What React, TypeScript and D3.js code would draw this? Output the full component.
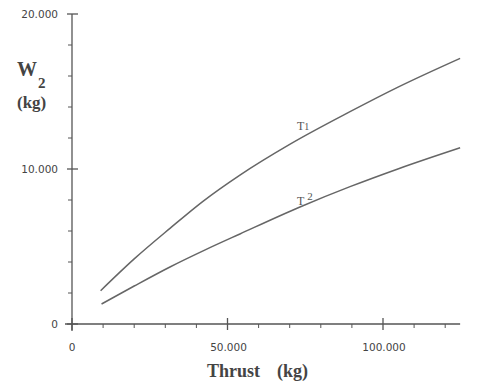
import React from "react";
import * as d3 from "d3";

const T1_THRUST = [9200, 20000, 31500, 42000, 54000, 70000, 89400, 105000, 124800];
const T1_W2 = [2150, 4200, 6170, 7900, 9610, 11590, 13700, 15300, 17140];
const T2_THRUST = [9500, 20000, 31500, 43000, 54000, 73300, 89400, 105000, 124800];
const T2_W2 = [1290, 2450, 3680, 4800, 5810, 7550, 8860, 10020, 11370];

const X_MAJOR = [0, 50000, 100000];
const X_MAJOR_LABELS = ["0", "50.000", "100.000"];
const X_MINOR = [10000, 20000, 30000, 40000, 60000, 70000, 80000, 90000, 110000, 120000];
const Y_MAJOR = [0, 10000, 20000];
const Y_MAJOR_LABELS = ["0", "10.000", "20.000"];
const Y_MINOR = [2000, 4000, 6000, 8000, 12000, 14000, 16000, 18000];

const W = 478;
const H = 391;

export default function App() {
  const x = d3.scaleLinear().domain([0, 100000]).range([72, 383]);
  const y = d3.scaleLinear().domain([0, 20000]).range([324, 14]);
  const line = d3
    .line<[number, number]>()
    .x((d) => x(d[0]))
    .y((d) => y(d[1]))
    .curve(d3.curveMonotoneX);
  const t1 = T1_THRUST.map((v, i) => [v, T1_W2[i]] as [number, number]);
  const t2 = T2_THRUST.map((v, i) => [v, T2_W2[i]] as [number, number]);
  const axisColor = "#555";
  const sans = "'DejaVu Sans', sans-serif";
  const serif = "'Liberation Serif', 'Times New Roman', serif";

  return (
    <svg
      width={W}
      height={H}
      style={{ position: "absolute", left: 0, top: 0, background: "#fff" }}
    >
      {/* axes */}
      <line x1={x(0)} x2={x(0)} y1={y(20000)} y2={331} stroke={axisColor} strokeWidth={1.3} />
      <line x1={65} x2={x(124800)} y1={y(0)} y2={y(0)} stroke={axisColor} strokeWidth={1.3} />
      {Y_MAJOR.map((v) => (
        <line key={"ym" + v} x1={x(0) - 5} x2={x(0) + 6} y1={y(v)} y2={y(v)} stroke={axisColor} strokeWidth={1.3} />
      ))}
      {Y_MINOR.map((v) => (
        <line key={"yn" + v} x1={x(0) - 4} x2={x(0)} y1={y(v)} y2={y(v)} stroke={axisColor} strokeWidth={1} />
      ))}
      {X_MAJOR.map((v) => (
        <line key={"xm" + v} x1={x(v)} x2={x(v)} y1={y(0) - 6} y2={y(0) + 6} stroke={axisColor} strokeWidth={1.3} />
      ))}
      {X_MINOR.map((v) => (
        <line key={"xn" + v} x1={x(v)} x2={x(v)} y1={y(0)} y2={y(0) + 4} stroke={axisColor} strokeWidth={1} />
      ))}
      {Y_MAJOR.map((v, i) => (
        <text key={"yl" + v} x={58} y={y(v)} dy="0.35em" textAnchor="end" fontFamily={sans} fontSize={10.5} fill="#444">
          {Y_MAJOR_LABELS[i]}
        </text>
      ))}
      {X_MAJOR.map((v, i) => (
        <text key={"xl" + v} x={x(v) + (i === 0 ? 0 : 1)} y={347} dy="0.35em" textAnchor="middle" fontFamily={sans} fontSize={10.5} fill="#444">
          {X_MAJOR_LABELS[i]}
        </text>
      ))}

      {/* curves */}
      <path d={line(t1) || ""} fill="none" stroke="#666" strokeWidth={1.5} />
      <path d={line(t2) || ""} fill="none" stroke="#666" strokeWidth={1.5} />

      {/* curve labels */}
      <text x={297} y={130} fontFamily={serif} fontSize={12} fill="#555">
        T<tspan fontSize={10}>1</tspan>
      </text>
      <text x={297} y={205} fontFamily={serif} fontSize={12} fill="#555">
        T<tspan dx={3} dy={-5} fontSize={11}>2</tspan>
      </text>

      {/* axis titles */}
      <text x={17} y={76} fontFamily={serif} fontWeight="bold" fontSize={20} fill="#444">
        W
      </text>
      <text x={38} y={88} fontFamily={serif} fontWeight="bold" fontSize={15} fill="#444">
        2
      </text>
      <text x={17} y={108} fontFamily={serif} fontWeight="bold" fontSize={17} fill="#444">
        (kg)
      </text>
      <text x={207} y={377} fontFamily={serif} fontWeight="bold" fontSize={18} fill="#444">
        Thrust
      </text>
      <text x={277} y={377} fontFamily={serif} fontWeight="bold" fontSize={18} fill="#444">
        (kg)
      </text>
    </svg>
  );
}
